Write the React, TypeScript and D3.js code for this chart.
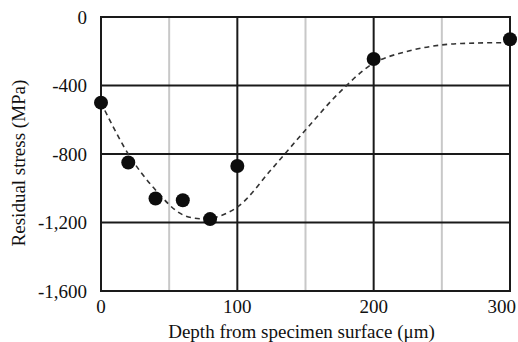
import React from "react";
import * as d3 from "d3";

// measured points (depth in um, residual stress in MPa)
const depths = [0, 20, 40, 60, 80, 100, 200, 300];
const stresses = [-500, -850, -1060, -1070, -1180, -870, -245, -130];

// dashed trend line
const trendDepths = [0, 20, 40, 60, 80, 100, 125, 150, 175, 200, 225, 250, 275, 300];
const trendStress = [-500, -800, -1010, -1155, -1175, -1110, -890, -660, -440, -270, -200, -163, -152, -150];

const xTicks = [0, 100, 200, 300];
const xMinor = [50, 150, 250];
const yTicks = [0, -400, -800, -1200, -1600];

const FONT = "Times New Roman";
const width = 518;
const height = 342;
const margin = { top: 17, right: 8, bottom: 51, left: 101 };
const w = width - margin.left - margin.right;
const h = height - margin.top - margin.bottom;

const x = d3.scaleLinear().domain([0, 300]).range([0, w]);
const y = d3.scaleLinear().domain([-1600, 0]).range([h, 0]);

// plain hyphen for the minus sign, like the original
const fmt = (d: number) => d3.format(",")(d).replace("\u2212", "-");

const line = d3
  .line<number>()
  .x((d, i) => x(trendDepths[i]))
  .y(d => y(d))
  .curve(d3.curveCatmullRom);

const App = () => {
  const last = xTicks.length - 1;
  return (
    <svg
      width={width}
      height={height}
      style={{ position: "absolute", left: 0, top: 0, background: "#fff" }}
    >
      <g transform={`translate(${margin.left},${margin.top})`}>
        {xMinor.map(d => (
          <line key={"m" + d} x1={x(d)} x2={x(d)} y1={0} y2={h} stroke="#c8c8c8" strokeWidth={2} />
        ))}
        {xTicks.slice(1, -1).map(d => (
          <line key={"x" + d} x1={x(d)} x2={x(d)} y1={0} y2={h} stroke="#1a1a1a" strokeWidth={2} />
        ))}
        {yTicks.slice(1, -1).map(d => (
          <line key={"y" + d} x1={0} x2={w} y1={y(d)} y2={y(d)} stroke="#1a1a1a" strokeWidth={2} />
        ))}
        <rect x={0} y={0} width={w} height={h} fill="none" stroke="#1a1a1a" strokeWidth={2} />

        {yTicks.map(d => (
          <text
            key={"yl" + d}
            x={-14}
            y={y(d)}
            dy="0.35em"
            textAnchor="end"
            fontFamily={FONT}
            fontSize={19}
            fill="#111"
          >
            {fmt(d)}
          </text>
        ))}
        {xTicks.map((d, i) => (
          <text
            key={"xl" + d}
            x={i === last ? x(d) + 6 : x(d)}
            y={h + 22}
            textAnchor={i === last ? "end" : "middle"}
            fontFamily={FONT}
            fontSize={19}
            fill="#111"
          >
            {d}
          </text>
        ))}

        <path
          d={line(trendStress) || ""}
          fill="none"
          stroke="#333"
          strokeWidth={1.6}
          strokeDasharray="5,4"
        />
        {stresses.map((d, i) => (
          <circle key={"p" + i} cx={x(depths[i])} cy={y(d)} r={7} fill="#0d0d0d" />
        ))}
      </g>

      <text
        x={margin.left + w / 2 - 4}
        y={338}
        textAnchor="middle"
        fontFamily={FONT}
        fontSize={19}
        fill="#111"
      >
        Depth from specimen surface (μm)
      </text>
      <text
        transform="translate(25,163) rotate(-90)"
        textAnchor="middle"
        fontFamily={FONT}
        fontSize={19}
        fill="#111"
      >
        Residual stress (MPa)
      </text>
    </svg>
  );
};

export default App;
